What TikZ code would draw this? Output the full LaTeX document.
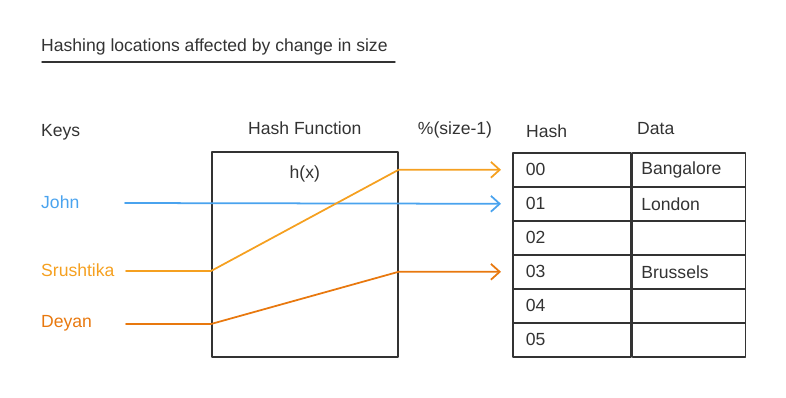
\documentclass[tikz,border=0pt]{standalone}
\usepackage{fontspec}
\setmainfont{Liberation Sans}
\usetikzlibrary{
  arrows.meta,  % Straight Barb 箭头
  calc,         % 坐标计算
  positioning   % 节点相对定位
}
\definecolor{inkgray}{HTML}{333333}
\definecolor{keyblue}{HTML}{4AA3EE}
\definecolor{keyamber}{HTML}{F5A020}
\definecolor{keyorange}{HTML}{E8780E}

\begin{document}
\begin{tikzpicture}[x=0.02cm, y=-0.02cm, >={Straight Barb[length=5pt, width=9pt]}, line join=round, line cap=round]
  % 统一设置：文字、方框、表格单元、连线
  \tikzset{
    label text/.style={font=\fontsize{10}{12}\selectfont, text=inkgray},
    func box/.style={draw=inkgray, line width=0.9pt, minimum width=3.72cm, minimum height=4.1cm, anchor=north west},
    hash cell/.style={draw=inkgray, line width=0.9pt, anchor=north west, minimum width=2.36cm, minimum height=0.68cm,
      inner xsep=0.26cm, text width=1.84cm, align=left, label text},
    data cell/.style={draw=inkgray, line width=0.9pt, anchor=north west, minimum width=2.26cm, minimum height=0.68cm,
      inner xsep=0.18cm, text width=1.9cm, align=left, label text},
    key link/.style={line width=1pt}
  }
  \useasboundingbox (0,0) rectangle (786,397);

  % =======================
  % 标题与下划线
  % =======================
  \node[label text, anchor=west] (title) at (35,47) {Hashing locations affected by change in size};
  \draw[inkgray, line width=0.8pt] (42,62) -- (395,62);

  % =======================
  % 键
  % =======================
  \node[label text, anchor=west] (keys) at (35,132) {Keys};
  \node[label text, text=keyblue, anchor=west] (john) at (35,202) {John};
  \node[label text, text=keyamber, anchor=west] (srushtika) at (35,270) {Srushtika};
  \node[label text, text=keyorange, anchor=west] (deyan) at (35,323) {Deyan};

  % 连线起点
  \coordinate (jin) at (125,203);
  \coordinate (sin) at (126,271);
  \coordinate (din) at (126,324);

  % =======================
  % 哈希函数方框
  % =======================
  \node[func box] (hf) at (211,151) {};
  \node[label text, above=0.2cm of hf] (hflabel) {Hash Function};
  \node[label text, below=0.18cm] (hx) at (hf.north) {h(x)};
  \node[label text] (modlabel) at (455,130) {\%(size-1)};

  % =======================
  % 哈希表
  % =======================
  \node[label text, anchor=west] (hashhead) at (520,131) {Hash};
  \node[label text, anchor=west] (datahead) at (631,129) {Data};
  \foreach \i/\code/\city in {0/00/Bangalore, 1/01/London, 2/02/, 3/03/Brussels, 4/04/, 5/05/} {
    \node[hash cell] (h\i) at (512,{152+34*\i}) {\code};
    \node[data cell] (d\i) at (h\i.north east) {\city};
  }

  % =======================
  % 映射连线
  % =======================
  \draw[key link, keyblue, ->] (jin) -- ([xshift=-0.22cm]h1.west);
  \draw[key link, keyamber, ->] (sin) -- (hf.west |- sin) -- (hf.east |- h0.west) -- ([xshift=-0.22cm]h0.west);
  \draw[key link, keyorange, ->] (din) -- (hf.west |- din) -- (hf.east |- h3.west) -- ([xshift=-0.22cm]h3.west);

\end{tikzpicture}
\end{document}
